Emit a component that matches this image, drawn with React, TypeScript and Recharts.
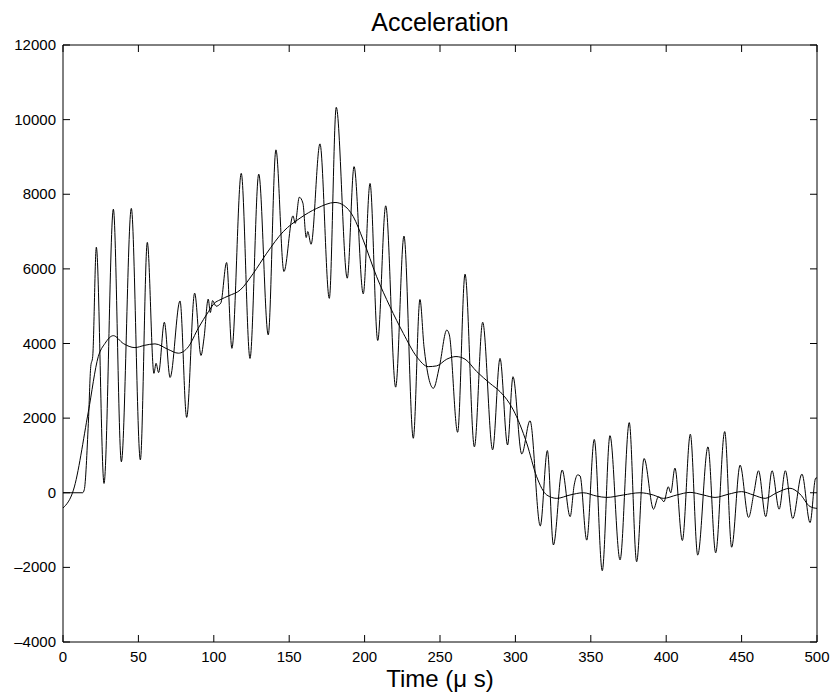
import { LineChart, Line, XAxis, YAxis } from "recharts";

// oscillating (raw) acceleration trace: [time µs, value]
const rawTime = [
  0, 13, 14.1, 16.8, 18.4, 19.7, 22.1, 27.2, 33.4, 38.7, 45.3, 51.3, 55.9, 60.3, 61.7, 63.4,
  67.2, 71, 77.6, 82, 87.3, 91.5, 93.5, 96.3, 97.7, 99.2, 101.5, 104.6, 108.5, 112, 118.2, 124,
  129.8, 136.1, 141.2, 146.5, 152.5, 154, 156.7, 159.1, 161.3, 162.3, 164.5, 170.4, 176.6, 181.2,
  188.5, 193, 199.1, 203.6, 208.7, 214, 220.6, 226.1, 232.3, 236.7, 239.4, 245.6, 249.6, 254.5,
  256.2, 261.7, 266.6, 272.8, 278.3, 284.9, 289.8, 294.8, 298.4, 304.2, 309.7, 316.5, 321.2,
  325.2, 331, 336.3, 339, 341.3, 342.9, 347.3, 352.3, 357.6, 362.7, 369.4, 375.5, 380.4, 385.3,
  391.6, 394.8, 396.5, 398.5, 401.4, 403, 405.8, 410.7, 416, 420.9, 427.7, 432.8, 438.8, 443.4,
  449, 454.6, 458.3, 461.2, 466, 470.2, 474.9, 479, 483.9, 490, 495.4, 499.1, 500,
];
const rawValue = [
  0, 0, 80, 1860, 3380, 3650, 6580, 250, 7600, 830, 7620, 880, 6710, 3200, 3470, 3220,
  4570, 3090, 5140, 2020, 5350, 3680, 4140, 5190, 4830, 5150, 5000, 5080, 6170, 3870, 8560, 3600,
  8540, 4230, 9190, 5930, 7420, 7220, 7920, 7760, 6840, 7000, 6660, 9350, 5210, 10330,
  5750, 8740, 5330, 8290, 4080, 7690, 2830, 6880, 1460, 5180, 3910, 2800, 3380, 4360,
  4230, 1620, 5860, 1230, 4570, 1150, 3600, 1280, 3110, 1040, 1930, -890, 1130,
  -1400, 610, -640, 210, 480, 450, -1270, 1430, -2090, 1530, -1800, 1880, -1850, 920,
  -440, -110, -150, -240, 160, 0, 660, -1280, 1570, -1670, 1230, -1610, 1640, -1460,
  740, -660, 30, 590, -640, 590, -440, 590, -690, 500, -800, 390, 400,
];

// smoothed trace
const smoothTime = [
  0, 6.9, 16.8, 23.4, 27.8, 33.4, 40, 47.7, 54, 61, 69.8, 76.5, 83.1, 89.7, 96.4, 100.4, 104.1,
  110, 117.4, 126.2, 135.1, 146.1, 157.2, 168.2, 180.4, 185.9, 192.5, 199.1, 208, 216.8, 225.7,
  234.5, 242.2, 247.8, 254.5, 260.6, 266.6, 274.3, 283.2, 289.8, 296, 298.6, 307.5, 314.1, 320.8,
  327.4, 336.2, 345, 353.9, 360.5, 371.5, 382.6, 391.4, 398.1, 407, 415.8, 424.6, 432.4, 441.2,
  450, 457.8, 465.6, 473.3, 482.1, 488.7, 495.4, 500,
];
const smoothValue = [
  -410, 70, 2170, 3650, 4000, 4210, 4000, 3890, 3950, 3990, 3840, 3740, 3910, 4410, 4850, 5080, 5170,
  5280, 5430, 5880, 6420, 7000, 7360, 7620, 7780, 7710, 7400, 6770, 5790, 4990, 4270,
  3650, 3380, 3400, 3580, 3650, 3580, 3250, 2930, 2710, 2400, 2220, 1330, 430, -60,
  -150, -60, 0, -90, -125, -60, 0, -60, -150, -60, 10, -60, -125, -40,
  30, -60, -150, 0, 120, -35, -370, -420,
];

const xTicks = [0, 50, 100, 150, 200, 250, 300, 350, 400, 450, 500];
const yTicks = [-4000, -2000, 0, 2000, 4000, 6000, 8000, 10000, 12000];

const rawData = rawTime.map((x, i) => ({ x, y: rawValue[i] }));
const smoothData = smoothTime.map((x, i) => ({ x, y: smoothValue[i] }));

const FONT = "'Liberation Sans', Arial, Helvetica, sans-serif";
const TICK_LEN = 7;

const fmt = (v: number) => (v < 0 ? `\u2013${Math.abs(v)}` : `${v}`);

function BottomTick({ x, y, payload }: any) {
  return (
    <g>
      <line x1={x} y1={y} x2={x} y2={y - TICK_LEN} stroke="#000" />
      <text x={x} y={y + 20} textAnchor="middle" fontSize={15} fontFamily={FONT} fill="#000">
        {payload.value}
      </text>
    </g>
  );
}
function TopTick({ x, y }: any) {
  return <line x1={x} y1={y} x2={x} y2={y + TICK_LEN} stroke="#000" />;
}
function LeftTick({ x, y, payload }: any) {
  return (
    <g>
      <line x1={x} y1={y} x2={x + TICK_LEN} y2={y} stroke="#000" />
      <text x={x - 7} y={y + 5} textAnchor="end" fontSize={15} fontFamily={FONT} fill="#000">
        {fmt(payload.value)}
      </text>
    </g>
  );
}
function RightTick({ x, y }: any) {
  return <line x1={x} y1={y} x2={x - TICK_LEN} y2={y} stroke="#000" />;
}

export default function App() {
  return (
    <div style={{ position: "absolute", left: 0, top: 0, width: 835, height: 698, background: "#fff" }}>
      <div
        style={{
          position: "absolute", left: 0, top: 10, width: 880, textAlign: "center",
          fontFamily: FONT, fontSize: 25, lineHeight: "25px", color: "#000",
        }}
      >
        Acceleration
      </div>
      <LineChart
        width={835}
        height={698}
        margin={{ top: 44, right: 17, bottom: 26, left: 13 }}
      >
        <XAxis
          xAxisId="bottom" type="number" dataKey="x" domain={[0, 500]} ticks={xTicks}
          interval={0} height={30} tickSize={0} tickMargin={0} tickLine={false}
          axisLine={{ stroke: "#000" }} tick={<BottomTick />} allowDataOverflow
        />
        <XAxis
          xAxisId="top" orientation="top" type="number" dataKey="x" domain={[0, 500]} ticks={xTicks}
          interval={0} height={1} tickSize={0} tickMargin={0} tickLine={false}
          axisLine={{ stroke: "#000" }} tick={<TopTick />} allowDataOverflow
        />
        <YAxis
          yAxisId="left" type="number" domain={[-4000, 12000]} ticks={yTicks}
          interval={0} width={50} tickSize={0} tickMargin={0} tickLine={false}
          axisLine={{ stroke: "#000" }} tick={<LeftTick />} allowDataOverflow
        />
        <YAxis
          yAxisId="right" orientation="right" type="number" domain={[-4000, 12000]} ticks={yTicks}
          interval={0} width={1} tickSize={0} tickMargin={0} tickLine={false}
          axisLine={{ stroke: "#000" }} tick={<RightTick />} allowDataOverflow
        />
        <Line
          xAxisId="bottom" yAxisId="left" data={rawData} dataKey="y" type="monotone"
          stroke="#000" strokeWidth={1} dot={false} isAnimationActive={false}
        />
        <Line
          xAxisId="bottom" yAxisId="left" data={smoothData} dataKey="y" type="monotone"
          stroke="#000" strokeWidth={1} dot={false} isAnimationActive={false}
        />
      </LineChart>
      <div
        style={{
          position: "absolute", left: 0, top: 670, width: 880, textAlign: "center",
          fontFamily: FONT, fontSize: 24, lineHeight: "18px", color: "#000",
        }}
      >
        Time (μ s)
      </div>
    </div>
  );
}
